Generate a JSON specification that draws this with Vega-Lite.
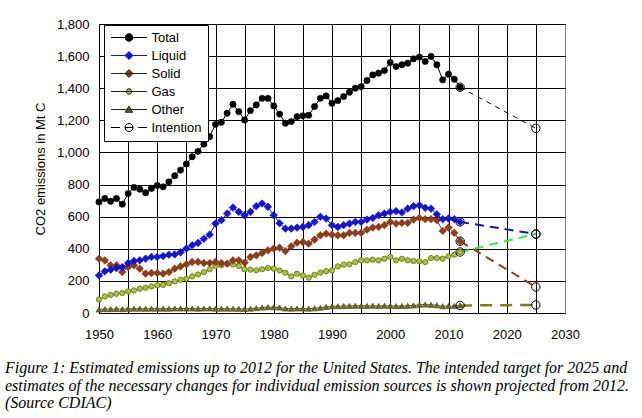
{
  "$schema": "https://vega.github.io/schema/vega-lite/v6.json",
  "width": 466,
  "height": 289,
  "autosize": "none",
  "padding": {"left": 99, "top": 24, "right": 77, "bottom": 105},
  "background": "white",
  "title": {
    "text": ["Figure 1: Estimated emissions up to 2012 for the United States. The intended target for 2025 and", "estimates of the necessary changes for individual emission sources is shown projected from 2012.", "(Source CDIAC)"],
    "orient": "bottom", "anchor": "start", "frame": "group", "align": "left", "dx": -94, "offset": 19,
    "font": "Liberation Serif", "fontStyle": "italic", "fontWeight": "normal", "fontSize": 16, "lineHeight": 17.5,
    "color": "black", "baseline": "top"
  },
  "datasets": {
    "hist": [
      {"series":"Total","year":1950,"value":692},{"series":"Total","year":1951,"value":713},{"series":"Total","year":1952,"value":696},{"series":"Total","year":1953,"value":713},{"series":"Total","year":1954,"value":678},{"series":"Total","year":1955,"value":744},{"series":"Total","year":1956,"value":782},{"series":"Total","year":1957,"value":771},{"series":"Total","year":1958,"value":749},{"series":"Total","year":1959,"value":776},{"series":"Total","year":1960,"value":794},{"series":"Total","year":1961,"value":786},{"series":"Total","year":1962,"value":817},{"series":"Total","year":1963,"value":855},{"series":"Total","year":1964,"value":890},{"series":"Total","year":1965,"value":928},{"series":"Total","year":1966,"value":973},{"series":"Total","year":1967,"value":1007},{"series":"Total","year":1968,"value":1052},{"series":"Total","year":1969,"value":1098},{"series":"Total","year":1970,"value":1175},{"series":"Total","year":1971,"value":1188},{"series":"Total","year":1972,"value":1244},{"series":"Total","year":1973,"value":1300},{"series":"Total","year":1974,"value":1254},{"series":"Total","year":1975,"value":1202},{"series":"Total","year":1976,"value":1261},{"series":"Total","year":1977,"value":1296},{"series":"Total","year":1978,"value":1337},{"series":"Total","year":1979,"value":1337},{"series":"Total","year":1980,"value":1290},{"series":"Total","year":1981,"value":1239},{"series":"Total","year":1982,"value":1182},{"series":"Total","year":1983,"value":1192},{"series":"Total","year":1984,"value":1223},{"series":"Total","year":1985,"value":1228},{"series":"Total","year":1986,"value":1232},{"series":"Total","year":1987,"value":1286},{"series":"Total","year":1988,"value":1337},{"series":"Total","year":1989,"value":1352},{"series":"Total","year":1990,"value":1306},{"series":"Total","year":1991,"value":1323},{"series":"Total","year":1992,"value":1348},{"series":"Total","year":1993,"value":1375},{"series":"Total","year":1994,"value":1400},{"series":"Total","year":1995,"value":1410},{"series":"Total","year":1996,"value":1448},{"series":"Total","year":1997,"value":1483},{"series":"Total","year":1998,"value":1494},{"series":"Total","year":1999,"value":1510},{"series":"Total","year":2000,"value":1560},{"series":"Total","year":2001,"value":1535},{"series":"Total","year":2002,"value":1546},{"series":"Total","year":2003,"value":1556},{"series":"Total","year":2004,"value":1583},{"series":"Total","year":2005,"value":1594},{"series":"Total","year":2006,"value":1567},{"series":"Total","year":2007,"value":1598},{"series":"Total","year":2008,"value":1546},{"series":"Total","year":2009,"value":1452},{"series":"Total","year":2010,"value":1487},{"series":"Total","year":2011,"value":1456},{"series":"Total","year":2012,"value":1406},
      {"series":"Liquid","year":1950,"value":234},{"series":"Liquid","year":1951,"value":260},{"series":"Liquid","year":1952,"value":270},{"series":"Liquid","year":1953,"value":280},{"series":"Liquid","year":1954,"value":286},{"series":"Liquid","year":1955,"value":311},{"series":"Liquid","year":1956,"value":324},{"series":"Liquid","year":1957,"value":328},{"series":"Liquid","year":1958,"value":338},{"series":"Liquid","year":1959,"value":349},{"series":"Liquid","year":1960,"value":349},{"series":"Liquid","year":1961,"value":355},{"series":"Liquid","year":1962,"value":363},{"series":"Liquid","year":1963,"value":365},{"series":"Liquid","year":1964,"value":378},{"series":"Liquid","year":1965,"value":401},{"series":"Liquid","year":1966,"value":422},{"series":"Liquid","year":1967,"value":436},{"series":"Liquid","year":1968,"value":463},{"series":"Liquid","year":1969,"value":488},{"series":"Liquid","year":1970,"value":557},{"series":"Liquid","year":1971,"value":578},{"series":"Liquid","year":1972,"value":619},{"series":"Liquid","year":1973,"value":657},{"series":"Liquid","year":1974,"value":630},{"series":"Liquid","year":1975,"value":609},{"series":"Liquid","year":1976,"value":630},{"series":"Liquid","year":1977,"value":665},{"series":"Liquid","year":1978,"value":682},{"series":"Liquid","year":1979,"value":661},{"series":"Liquid","year":1980,"value":609},{"series":"Liquid","year":1981,"value":559},{"series":"Liquid","year":1982,"value":526},{"series":"Liquid","year":1983,"value":526},{"series":"Liquid","year":1984,"value":532},{"series":"Liquid","year":1985,"value":536},{"series":"Liquid","year":1986,"value":547},{"series":"Liquid","year":1987,"value":567},{"series":"Liquid","year":1988,"value":599},{"series":"Liquid","year":1989,"value":588},{"series":"Liquid","year":1990,"value":547},{"series":"Liquid","year":1991,"value":536},{"series":"Liquid","year":1992,"value":547},{"series":"Liquid","year":1993,"value":557},{"series":"Liquid","year":1994,"value":567},{"series":"Liquid","year":1995,"value":567},{"series":"Liquid","year":1996,"value":582},{"series":"Liquid","year":1997,"value":592},{"series":"Liquid","year":1998,"value":609},{"series":"Liquid","year":1999,"value":619},{"series":"Liquid","year":2000,"value":630},{"series":"Liquid","year":2001,"value":634},{"series":"Liquid","year":2002,"value":626},{"series":"Liquid","year":2003,"value":650},{"series":"Liquid","year":2004,"value":665},{"series":"Liquid","year":2005,"value":671},{"series":"Liquid","year":2006,"value":655},{"series":"Liquid","year":2007,"value":650},{"series":"Liquid","year":2008,"value":615},{"series":"Liquid","year":2009,"value":584},{"series":"Liquid","year":2010,"value":588},{"series":"Liquid","year":2011,"value":584},{"series":"Liquid","year":2012,"value":567},
      {"series":"Solid","year":1950,"value":338},{"series":"Solid","year":1951,"value":328},{"series":"Solid","year":1952,"value":297},{"series":"Solid","year":1953,"value":297},{"series":"Solid","year":1954,"value":255},{"series":"Solid","year":1955,"value":286},{"series":"Solid","year":1956,"value":297},{"series":"Solid","year":1957,"value":276},{"series":"Solid","year":1958,"value":245},{"series":"Solid","year":1959,"value":249},{"series":"Solid","year":1960,"value":249},{"series":"Solid","year":1961,"value":245},{"series":"Solid","year":1962,"value":255},{"series":"Solid","year":1963,"value":276},{"series":"Solid","year":1964,"value":290},{"series":"Solid","year":1965,"value":303},{"series":"Solid","year":1966,"value":318},{"series":"Solid","year":1967,"value":318},{"series":"Solid","year":1968,"value":311},{"series":"Solid","year":1969,"value":311},{"series":"Solid","year":1970,"value":318},{"series":"Solid","year":1971,"value":311},{"series":"Solid","year":1972,"value":307},{"series":"Solid","year":1973,"value":328},{"series":"Solid","year":1974,"value":328},{"series":"Solid","year":1975,"value":313},{"series":"Solid","year":1976,"value":349},{"series":"Solid","year":1977,"value":359},{"series":"Solid","year":1978,"value":374},{"series":"Solid","year":1979,"value":390},{"series":"Solid","year":1980,"value":401},{"series":"Solid","year":1981,"value":407},{"series":"Solid","year":1982,"value":386},{"series":"Solid","year":1983,"value":415},{"series":"Solid","year":1984,"value":438},{"series":"Solid","year":1985,"value":442},{"series":"Solid","year":1986,"value":432},{"series":"Solid","year":1987,"value":457},{"series":"Solid","year":1988,"value":484},{"series":"Solid","year":1989,"value":494},{"series":"Solid","year":1990,"value":488},{"series":"Solid","year":1991,"value":484},{"series":"Solid","year":1992,"value":484},{"series":"Solid","year":1993,"value":499},{"series":"Solid","year":1994,"value":499},{"series":"Solid","year":1995,"value":499},{"series":"Solid","year":1996,"value":519},{"series":"Solid","year":1997,"value":532},{"series":"Solid","year":1998,"value":536},{"series":"Solid","year":1999,"value":547},{"series":"Solid","year":2000,"value":567},{"series":"Solid","year":2001,"value":557},{"series":"Solid","year":2002,"value":561},{"series":"Solid","year":2003,"value":561},{"series":"Solid","year":2004,"value":582},{"series":"Solid","year":2005,"value":592},{"series":"Solid","year":2006,"value":584},{"series":"Solid","year":2007,"value":584},{"series":"Solid","year":2008,"value":578},{"series":"Solid","year":2009,"value":511},{"series":"Solid","year":2010,"value":532},{"series":"Solid","year":2011,"value":499},{"series":"Solid","year":2012,"value":447},
      {"series":"Gas","year":1950,"value":84},{"series":"Gas","year":1951,"value":103},{"series":"Gas","year":1952,"value":113},{"series":"Gas","year":1953,"value":120},{"series":"Gas","year":1954,"value":124},{"series":"Gas","year":1955,"value":134},{"series":"Gas","year":1956,"value":141},{"series":"Gas","year":1957,"value":151},{"series":"Gas","year":1958,"value":157},{"series":"Gas","year":1959,"value":166},{"series":"Gas","year":1960,"value":172},{"series":"Gas","year":1961,"value":176},{"series":"Gas","year":1962,"value":186},{"series":"Gas","year":1963,"value":197},{"series":"Gas","year":1964,"value":207},{"series":"Gas","year":1965,"value":213},{"series":"Gas","year":1966,"value":228},{"series":"Gas","year":1967,"value":240},{"series":"Gas","year":1968,"value":255},{"series":"Gas","year":1969,"value":272},{"series":"Gas","year":1970,"value":293},{"series":"Gas","year":1971,"value":297},{"series":"Gas","year":1972,"value":307},{"series":"Gas","year":1973,"value":303},{"series":"Gas","year":1974,"value":293},{"series":"Gas","year":1975,"value":272},{"series":"Gas","year":1976,"value":270},{"series":"Gas","year":1977,"value":266},{"series":"Gas","year":1978,"value":272},{"series":"Gas","year":1979,"value":280},{"series":"Gas","year":1980,"value":276},{"series":"Gas","year":1981,"value":265},{"series":"Gas","year":1982,"value":251},{"series":"Gas","year":1983,"value":228},{"series":"Gas","year":1984,"value":245},{"series":"Gas","year":1985,"value":234},{"series":"Gas","year":1986,"value":220},{"series":"Gas","year":1987,"value":238},{"series":"Gas","year":1988,"value":251},{"series":"Gas","year":1989,"value":261},{"series":"Gas","year":1990,"value":265},{"series":"Gas","year":1991,"value":290},{"series":"Gas","year":1992,"value":301},{"series":"Gas","year":1993,"value":303},{"series":"Gas","year":1994,"value":317},{"series":"Gas","year":1995,"value":328},{"series":"Gas","year":1996,"value":328},{"series":"Gas","year":1997,"value":332},{"series":"Gas","year":1998,"value":328},{"series":"Gas","year":1999,"value":338},{"series":"Gas","year":2000,"value":349},{"series":"Gas","year":2001,"value":328},{"series":"Gas","year":2002,"value":338},{"series":"Gas","year":2003,"value":328},{"series":"Gas","year":2004,"value":324},{"series":"Gas","year":2005,"value":322},{"series":"Gas","year":2006,"value":317},{"series":"Gas","year":2007,"value":342},{"series":"Gas","year":2008,"value":342},{"series":"Gas","year":2009,"value":338},{"series":"Gas","year":2010,"value":353},{"series":"Gas","year":2011,"value":363},{"series":"Gas","year":2012,"value":380},
      {"series":"Other","year":1950,"value":22},{"series":"Other","year":1951,"value":24},{"series":"Other","year":1952,"value":24},{"series":"Other","year":1953,"value":25},{"series":"Other","year":1954,"value":24},{"series":"Other","year":1955,"value":26},{"series":"Other","year":1956,"value":27},{"series":"Other","year":1957,"value":27},{"series":"Other","year":1958,"value":26},{"series":"Other","year":1959,"value":27},{"series":"Other","year":1960,"value":27},{"series":"Other","year":1961,"value":27},{"series":"Other","year":1962,"value":27},{"series":"Other","year":1963,"value":28},{"series":"Other","year":1964,"value":28},{"series":"Other","year":1965,"value":28},{"series":"Other","year":1966,"value":28},{"series":"Other","year":1967,"value":27},{"series":"Other","year":1968,"value":28},{"series":"Other","year":1969,"value":28},{"series":"Other","year":1970,"value":27},{"series":"Other","year":1971,"value":27},{"series":"Other","year":1972,"value":27},{"series":"Other","year":1973,"value":27},{"series":"Other","year":1974,"value":26},{"series":"Other","year":1975,"value":25},{"series":"Other","year":1976,"value":27},{"series":"Other","year":1977,"value":30},{"series":"Other","year":1978,"value":34},{"series":"Other","year":1979,"value":36},{"series":"Other","year":1980,"value":36},{"series":"Other","year":1981,"value":34},{"series":"Other","year":1982,"value":28},{"series":"Other","year":1983,"value":27},{"series":"Other","year":1984,"value":28},{"series":"Other","year":1985,"value":28},{"series":"Other","year":1986,"value":27},{"series":"Other","year":1987,"value":29},{"series":"Other","year":1988,"value":33},{"series":"Other","year":1989,"value":38},{"series":"Other","year":1990,"value":42},{"series":"Other","year":1991,"value":42},{"series":"Other","year":1992,"value":43},{"series":"Other","year":1993,"value":44},{"series":"Other","year":1994,"value":45},{"series":"Other","year":1995,"value":45},{"series":"Other","year":1996,"value":44},{"series":"Other","year":1997,"value":45},{"series":"Other","year":1998,"value":44},{"series":"Other","year":1999,"value":45},{"series":"Other","year":2000,"value":45},{"series":"Other","year":2001,"value":43},{"series":"Other","year":2002,"value":44},{"series":"Other","year":2003,"value":45},{"series":"Other","year":2004,"value":47},{"series":"Other","year":2005,"value":51},{"series":"Other","year":2006,"value":53},{"series":"Other","year":2007,"value":51},{"series":"Other","year":2008,"value":48},{"series":"Other","year":2009,"value":42},{"series":"Other","year":2010,"value":43},{"series":"Other","year":2011,"value":44},{"series":"Other","year":2012,"value":47}
    ],
    "proj": [
      {"series":"Total","year":2012,"value":1406},{"series":"Total","year":2025,"value":1150},
      {"series":"Liquid","year":2012,"value":567},{"series":"Liquid","year":2025,"value":492},
      {"series":"Solid","year":2012,"value":447},{"series":"Solid","year":2025,"value":162},
      {"series":"Gas","year":2012,"value":380},{"series":"Gas","year":2025,"value":492},
      {"series":"Other","year":2012,"value":47},{"series":"Other","year":2025,"value":50}
    ]
  },
  "encoding": {
    "x": {"field": "year", "type": "quantitative",
      "scale": {"domain": [1950, 2030], "nice": false, "zero": false},
      "axis": {"title": null, "grid": true, "values": [1950,1955,1960,1965,1970,1975,1980,1985,1990,1995,2000,2005,2010,2015,2020,2025,2030],
        "format": "d", "labelExpr": "datum.value % 10 === 0 ? datum.label : ''", "labelOverlap": false, "labelFlush": false,
        "labelPadding": 15,
        "gridColor": {"condition": {"test": "datum.value === 2030", "value": "#808080"}, "value": "black"}}},
    "y": {"field": "value", "type": "quantitative",
      "scale": {"domain": [0, 1800], "nice": false},
      "axis": {"title": "CO2 emissions in Mt C", "grid": true, "values": [0,200,400,600,800,1000,1200,1400,1600,1800],
        "format": ",d", "labelPadding": 10, "titlePadding": 9, "labelOverlap": false, "labelFlush": false, "gridColor": "black"}}
  },
  "layer": [
    {"data": {"name": "hist"},
     "mark": {"type": "line", "strokeWidth": 1},
     "encoding": {"color": {"field": "series", "type": "nominal", "legend": null,
       "scale": {"domain": ["Total","Liquid","Solid","Gas","Other"], "range": ["#000000","#1414c8","#6e2c10","#6b7a10","#5a5a14"]}}}},
    {"data": {"name": "proj"}, "transform": [{"filter": "datum.series === 'Total'"}],
     "mark": {"type": "line", "color": "black", "strokeWidth": 1, "strokeDash": [5, 5]}, "encoding": {}},
    {"data": {"name": "proj"}, "transform": [{"filter": "datum.series === 'Liquid'"}],
     "mark": {"type": "line", "color": "#1010c8", "strokeWidth": 2, "strokeDash": [9, 6]}, "encoding": {}},
    {"data": {"name": "proj"}, "transform": [{"filter": "datum.series === 'Solid'"}],
     "mark": {"type": "line", "color": "#8b3e18", "strokeWidth": 2, "strokeDash": [9, 6]}, "encoding": {}},
    {"data": {"name": "proj"}, "transform": [{"filter": "datum.series === 'Gas'"}],
     "mark": {"type": "line", "color": "#3cec3c", "strokeWidth": 2, "strokeDash": [9, 6]}, "encoding": {}},
    {"data": {"name": "proj"}, "transform": [{"filter": "datum.series === 'Other'"}],
     "mark": {"type": "line", "color": "#808010", "strokeWidth": 2.5, "strokeDash": [12, 8]}, "encoding": {}},
    {"data": {"name": "hist"}, "transform": [{"filter": "datum.series === 'Other'"}],
     "mark": {"type": "point", "shape": "triangle-up", "filled": true, "fill": "#6b6b22", "stroke": "#4a4a10", "strokeWidth": 0.7, "size": 34, "opacity": 1}, "encoding": {}},
    {"data": {"name": "hist"}, "transform": [{"filter": "datum.series === 'Gas'"}],
     "mark": {"type": "point", "shape": "circle", "filled": true, "fill": "#a8c43c", "stroke": "#5f6e14", "strokeWidth": 0.8, "size": 28, "opacity": 1}, "encoding": {}},
    {"data": {"name": "hist"}, "transform": [{"filter": "datum.series === 'Solid'"}],
     "mark": {"type": "point", "shape": "diamond", "filled": true, "fill": "#8b3e18", "stroke": "#8b3e18", "strokeWidth": 0.5, "size": 60, "opacity": 1}, "encoding": {}},
    {"data": {"name": "hist"}, "transform": [{"filter": "datum.series === 'Liquid'"}],
     "mark": {"type": "point", "shape": "diamond", "filled": true, "fill": "#1414cc", "stroke": "#1414cc", "strokeWidth": 0.5, "size": 60, "opacity": 1}, "encoding": {}},
    {"data": {"name": "hist"}, "transform": [{"filter": "datum.series === 'Total'"}],
     "mark": {"type": "point", "shape": "circle", "filled": true, "fill": "black", "stroke": "black", "strokeWidth": 0.5, "size": 40, "opacity": 1}, "encoding": {}},
    {"data": {"name": "proj"},
     "mark": {"type": "point", "shape": "circle", "filled": false, "stroke": "black", "strokeWidth": 1, "size": 70, "opacity": 1}, "encoding": {}},
    {"data": {"values": []},
     "mark": {"type": "point", "filled": true, "size": 100, "strokeWidth": 1, "opacity": 1},
     "encoding": {
       "shape": {"field": "label", "type": "nominal", "legend": {"title": null},
         "scale": {"domain": ["Total","Liquid","Solid","Gas","Other","Intention"],
           "range": [
             "M-3.6,0H3.6M0.75,0A0.75,0.75,0,1,1,-0.75,0A0.75,0.75,0,1,1,0.75,0Z",
             "M-3.6,0H3.6M0,-0.8L0.8,0L0,0.8L-0.8,0Z",
             "M-3.6,0H3.6M0,-0.8L0.8,0L0,0.8L-0.8,0Z",
             "M-3.6,0H3.6M0.55,0A0.55,0.55,0,1,1,-0.55,0A0.55,0.55,0,1,1,0.55,0Z",
             "M-3.6,0H3.6M0,-0.7L0.75,0.55L-0.75,0.55Z",
             "M-3.6,0H-1.8M1.8,0H3.6M0.8,0A0.8,0.8,0,1,1,-0.8,0A0.8,0.8,0,1,1,0.8,0ZM-0.8,0H0.8"
           ]}},
       "fill": {"field": "label", "type": "nominal", "legend": {"title": null},
         "scale": {"domain": ["Total","Liquid","Solid","Gas","Other","Intention"],
           "range": ["#000000","#1414cc","#8b3e18","#a8c43c","#6b6b22","transparent"]}},
       "stroke": {"field": "label", "type": "nominal", "legend": {"title": null},
         "scale": {"domain": ["Total","Liquid","Solid","Gas","Other","Intention"],
           "range": ["#000000","#1414cc","#202020","#202020","#202020","#000000"]}}
     }}
  ],
  "config": {
    "view": {"stroke": "#808080", "strokeWidth": 1},
    "axis": {"labelFont": "Liberation Sans", "labelFontSize": 13, "labelColor": "black",
      "titleFont": "Liberation Sans", "titleFontSize": 13, "titleFontWeight": "normal", "titleColor": "black",
      "domainColor": "black", "domainWidth": 1, "grid": true, "gridOpacity": 1, "gridWidth": 1, "ticks": false},
    "legend": {"orient": "none", "legendX": 5, "legendY": 1, "padding": 6, "strokeColor": "black", "fillColor": "white",
      "labelFont": "Liberation Sans", "labelFontSize": 13, "labelColor": "black", "symbolSize": 100,
      "symbolStrokeWidth": 1, "symbolOffset": 12.5, "labelOffset": 16, "rowPadding": 4, "cornerRadius": 0}
  }
}
